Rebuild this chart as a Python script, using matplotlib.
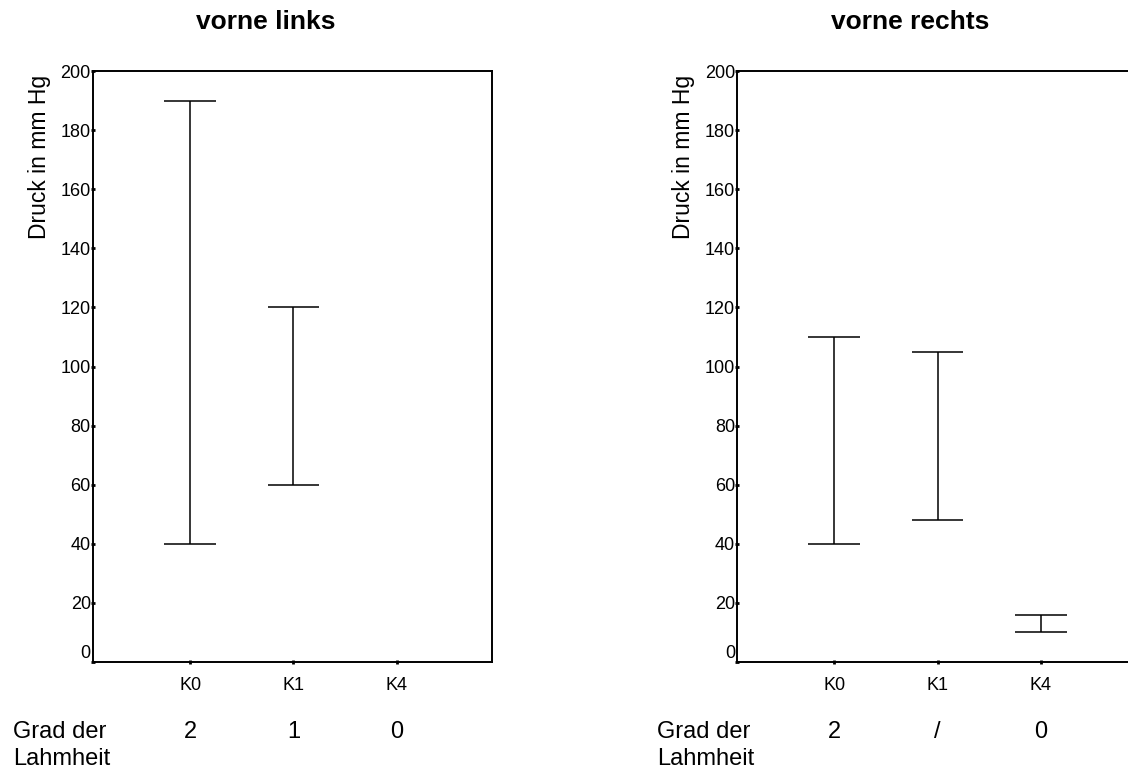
import numpy as np
import matplotlib
matplotlib.use("Agg")
import matplotlib.pyplot as plt
import matplotlib.transforms as mtransforms

plt.rcParams['font.family'] = ['Liberation Sans', 'DejaVu Sans']

# data
categories = ["K0", "K1", "K4"]
left_low = [40, 60, np.nan]
left_high = [190, 120, np.nan]
right_low = [40, 48, 10]
right_high = [110, 105, 16]
grade_left = ["2", "1", "0"]
grade_right = ["2", "/", "0"]
titles = ["vorne links", "vorne rechts"]

fig = plt.figure(figsize=(11.28, 7.72), dpi=100)
ax_left = fig.add_axes([0.0824, 0.1425, 0.3537, 0.7655])
ax_right = fig.add_axes([0.6534, 0.1425, 0.3537, 0.7655])

panels = [
    (ax_left, left_low, left_high, grade_left, titles[0]),
    (ax_right, right_low, right_high, grade_right, titles[1]),
]

x = np.arange(len(categories))
cap = 0.25

for ax, low, high, grades, title in panels:
    low = np.array(low, dtype=float)
    high = np.array(high, dtype=float)
    ok = ~np.isnan(low)
    ax.vlines(x[ok], low[ok], high[ok], color="black", lw=1.1)
    ax.hlines(low[ok], x[ok] - cap, x[ok] + cap, color="black", lw=1.1)
    ax.hlines(high[ok], x[ok] - cap, x[ok] + cap, color="black", lw=1.1)

    ax.set_xlim(-0.94, 2.92)
    ax.set_ylim(0, 200)
    ax.set_yticks(range(0, 201, 20))
    ax.set_xticks(x)
    ax.set_xticklabels(categories)
    for sp in ax.spines.values():
        sp.set_linewidth(1.4)
    ax.tick_params(axis="both", direction="inout", length=3, width=2,
                   labelsize=13)
    ax.tick_params(axis="y", pad=0)
    ax.tick_params(axis="x", pad=9)
    ax.get_yticklabels()[0].set_va("bottom")

    ax.text(-0.135, 0.993, "Druck in mm Hg", transform=ax.transAxes,
            rotation=90, ha="center", va="top", fontsize=16.5)
    ax.text(0.434, 1.083, title, transform=ax.transAxes, ha="center",
            va="center", fontsize=19, fontweight="bold")

    # row below the axis with grade of lameness
    trans = mtransforms.blended_transform_factory(ax.transData, ax.transAxes)
    for xi, g in zip(x, grades):
        ax.text(xi, -0.118, g, transform=trans, ha="center", va="center",
                fontsize=17)
    ax.text(-0.2, -0.118, "Grad der", transform=ax.transAxes,
            ha="left", va="center", fontsize=17)
    ax.text(-0.2, -0.164, "Lahmheit", transform=ax.transAxes,
            ha="left", va="center", fontsize=17)

fig.savefig("out.png", dpi=100)
